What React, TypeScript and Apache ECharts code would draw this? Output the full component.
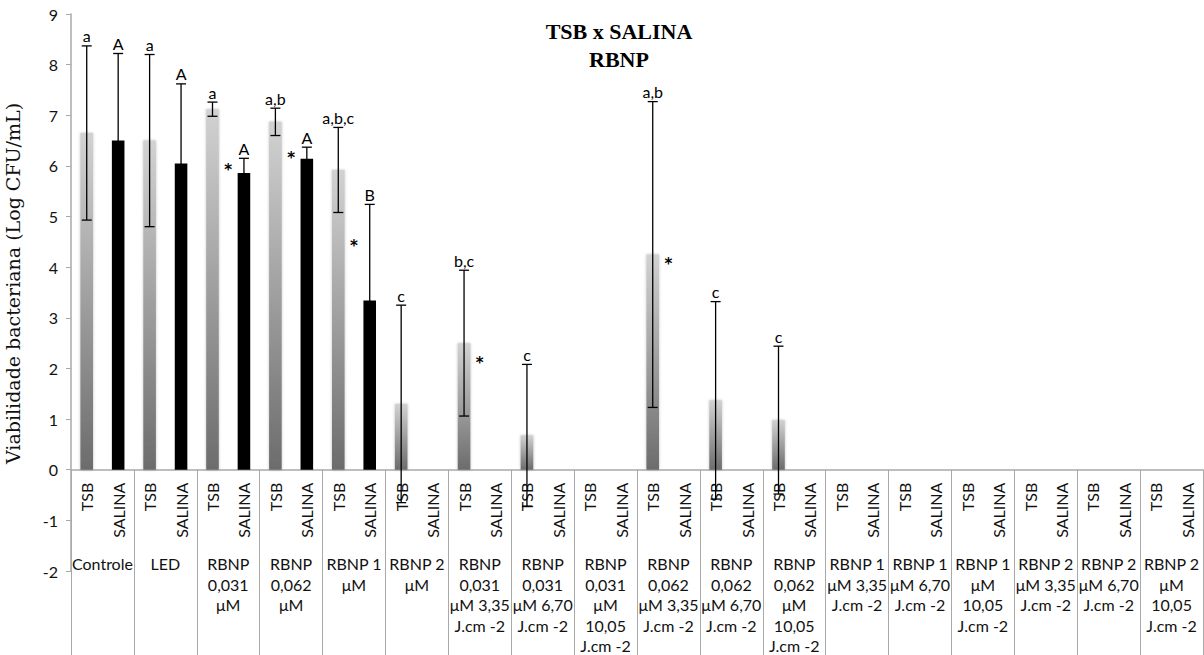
import React, { useEffect, useRef } from "react";
import * as echarts from "echarts";

const groupLabels = [
  "Controle",
  "LED",
  "RBNP\n0,031\nμM",
  "RBNP\n0,062\nμM",
  "RBNP 1\nμM",
  "RBNP 2\nμM",
  "RBNP\n0,031\nμM 3,35\nJ.cm -2",
  "RBNP\n0,031\nμM 6,70\nJ.cm -2",
  "RBNP\n0,031\nμM\n10,05\nJ.cm -2",
  "RBNP\n0,062\nμM 3,35\nJ.cm -2",
  "RBNP\n0,062\nμM 6,70\nJ.cm -2",
  "RBNP\n0,062\nμM\n10,05\nJ.cm -2",
  "RBNP 1\nμM 3,35\nJ.cm -2",
  "RBNP 1\nμM 6,70\nJ.cm -2",
  "RBNP 1\nμM\n10,05\nJ.cm -2",
  "RBNP 2\nμM 3,35\nJ.cm -2",
  "RBNP 2\nμM 6,70\nJ.cm -2",
  "RBNP 2\nμM\n10,05\nJ.cm -2",
];
const mediaLabels = ["TSB", "SALINA"];

const tsbValues = [6.65, 6.5, 7.12, 6.87, 5.92, 1.3, 2.5, 0.68, 0, 4.25, 1.37, 0.98, 0, 0, 0, 0, 0, 0];
const tsbSd = [1.72, 1.7, 0.14, 0.27, 0.84, 1.95, 1.44, 1.4, 0, 3.02, 1.95, 1.46, 0, 0, 0, 0, 0, 0];
const tsbLetters = ["a", "a", "a", "a,b", "a,b,c", "c", "b,c", "c", "", "a,b", "c", "c", "", "", "", "", "", ""];

const salinaValues = [6.5, 6.05, 5.86, 6.14, 3.34, 0, 0, 0, 0, 0, 0, 0, 0, 0, 0, 0, 0, 0];
const salinaSd = [1.72, 1.57, 0.29, 0.23, 1.9, 0, 0, 0, 0, 0, 0, 0, 0, 0, 0, 0, 0, 0];
const salinaLetters = ["A", "A", "A", "A", "B", "", "", "", "", "", "", "", "", "", "", "", "", ""];

const asteriskGroups = [2, 3, 4, 6, 9];
const asteriskValues = [6.0, 6.24, 4.5, 2.18, 4.14];

const yMin = -2;
const yMax = 9;
const yInterval = 1;

const TEXT_FONT = "Lato, 'Open Sans', sans-serif";
const AXIS_GREY = "#a9a9a9";

const W = 1204;
const H = 655;
const PLOT_LEFT = 71;
const PLOT_RIGHT = 1;
const PLOT_TOP = 14;
const PLOT_BOTTOM = 84;

export default function App() {
  const ref = useRef<HTMLDivElement>(null);

  useEffect(() => {
    if (!ref.current) return;
    const chart = echarts.init(ref.current, undefined, { renderer: "svg" });

    const barCategories: string[] = [];
    const barData: any[] = [];
    const errData: { idx: number; mean: number; sd: number; letter: string }[] = [];
    groupLabels.forEach((_, g) => {
      barCategories.push(mediaLabels[0]);
      barCategories.push(mediaLabels[1]);
      barData.push({
        value: tsbValues[g],
        itemStyle: {
          color: new echarts.graphic.LinearGradient(0, 0, 0, 1, [
            { offset: 0, color: "#d2d2d2" },
            { offset: 1, color: "#6c6c6c" },
          ]),
          shadowBlur: 3,
          shadowColor: "rgba(120,120,120,0.45)",
        },
      });
      barData.push({ value: salinaValues[g], itemStyle: { color: "#000" } });
      if (tsbSd[g] > 0) errData.push({ idx: 2 * g, mean: tsbValues[g], sd: tsbSd[g], letter: tsbLetters[g] });
      if (salinaSd[g] > 0)
        errData.push({ idx: 2 * g + 1, mean: salinaValues[g], sd: salinaSd[g], letter: salinaLetters[g] });
    });

    // grid 0 spans the full value range (-2..9); grids 1 and 2 span 0..9 with identical scale
    const unit = (H - PLOT_TOP - PLOT_BOTTOM) / (yMax - yMin);
    const zeroBottom = H - PLOT_TOP - unit * yMax;
    const fullGrid = {
      left: PLOT_LEFT,
      right: PLOT_RIGHT,
      top: PLOT_TOP,
      bottom: PLOT_BOTTOM,
      containLabel: false,
      outerBoundsMode: "none",
    };
    const posGrid = { ...fullGrid, bottom: zeroBottom };

    chart.setOption({
      animation: false,
      backgroundColor: "#fff",
      grid: [fullGrid, posGrid, { ...posGrid }],
      graphic: [
        {
          type: "text",
          x: 619,
          y: 17,
          style: {
            text: "TSB x SALINA\nRBNP",
            textAlign: "center",
            textVerticalAlign: "top",
            fontFamily: "'Liberation Serif', serif",
            fontWeight: "bold",
            fontSize: 22,
            lineHeight: 28,
            fill: "#000",
          },
        },
      ],
      xAxis: [
        {
          type: "category",
          gridIndex: 0,
          data: barCategories,
          show: false,
        },
        {
          type: "category",
          gridIndex: 1,
          position: "bottom",
          data: barCategories,
          axisLine: { onZero: false, lineStyle: { color: AXIS_GREY, width: 1.5 } },
          axisTick: { interval: 0, length: 67, lineStyle: { color: AXIS_GREY } },
          axisLabel: {
            interval: 0,
            rotate: 90,
            margin: 13,
            fontSize: 16,
            fontFamily: TEXT_FONT,
            color: "#111",
          },
        },
        {
          type: "category",
          gridIndex: 2,
          position: "bottom",
          data: groupLabels,
          axisLine: { onZero: false, show: false },
          axisTick: { show: true, interval: 0, length: 190, lineStyle: { color: AXIS_GREY } },
          axisLabel: {
            interval: 0,
            margin: 84,
            fontSize: 16,
            lineHeight: 20.5,
            fontFamily: TEXT_FONT,
            color: "#111",
            verticalAlign: "top",
          },
        },
      ],
      yAxis: [
        {
          type: "value",
          gridIndex: 0,
          min: yMin,
          max: yMax,
          interval: yInterval,
          name: "Viabilidade bacteriana (Log CFU/mL)",
          nameLocation: "middle",
          nameGap: 49,
          nameTextStyle: {
            fontFamily: "'DejaVu Serif', serif",
            fontSize: 19,
            color: "#111",
            padding: [0, 0, 0, 18],
          },
          axisLine: { show: true, lineStyle: { color: AXIS_GREY, width: 1.5 } },
          axisTick: { show: true, length: 5, lineStyle: { color: AXIS_GREY } },
          splitLine: { show: false },
          axisLabel: { fontSize: 16, fontFamily: TEXT_FONT, color: "#111", margin: 13 },
        },
        {
          type: "value",
          gridIndex: 1,
          min: 0,
          max: yMax,
          interval: yInterval,
          show: false,
          splitLine: { show: false },
        },
        {
          type: "value",
          gridIndex: 2,
          min: 0,
          max: yMax,
          interval: yInterval,
          show: false,
          splitLine: { show: false },
        },
      ],
      series: [
        {
          type: "bar",
          xAxisIndex: 1,
          yAxisIndex: 1,
          data: barData,
          barWidth: "40%",
        },
        {
          type: "custom",
          xAxisIndex: 1,
          yAxisIndex: 1,
          clip: false,
          data: errData.map((d) => [d.idx, d.mean, d.sd]),
          encode: { x: 0, y: 1 },
          z: 5,
          renderItem: (params: any, api: any) => {
            const x = api.value(0);
            const m = api.value(1);
            const s = api.value(2);
            const top = api.coord([x, m + s]);
            const bot = api.coord([x, m - s]);
            const cap = 5;
            const st = { stroke: "#000", lineWidth: 1.3 };
            const children: any[] = [
              { type: "line", shape: { x1: top[0], y1: top[1], x2: bot[0], y2: bot[1] }, style: st },
              { type: "line", shape: { x1: top[0] - cap, y1: top[1], x2: top[0] + cap, y2: top[1] }, style: st },
              { type: "line", shape: { x1: bot[0] - cap, y1: bot[1], x2: bot[0] + cap, y2: bot[1] }, style: st },
            ];
            const letter = errData[params.dataIndex].letter;
            if (letter) {
              children.push({
                type: "text",
                x: top[0],
                y: top[1] - 2,
                style: {
                  text: letter,
                  textAlign: "center",
                  textVerticalAlign: "bottom",
                  fontSize: 16,
                  fontFamily: TEXT_FONT,
                  fill: "#000",
                },
              });
            }
            return { type: "group", children };
          },
        },
        {
          type: "custom",
          xAxisIndex: 2,
          yAxisIndex: 2,
          clip: false,
          data: asteriskGroups.map((g, i) => [g, asteriskValues[i]]),
          encode: { x: 0, y: 1 },
          z: 5,
          renderItem: (params: any, api: any) => {
            const p = api.coord([api.value(0), api.value(1)]);
            return {
              type: "group",
              children: [
                {
                  type: "text",
                  x: p[0],
                  y: p[1] + 4,
                  style: {
                    text: "*",
                    textAlign: "center",
                    textVerticalAlign: "middle",
                    fontSize: 15,
                    fontWeight: "bold",
                    fontFamily: "'DejaVu Sans', sans-serif",
                    fill: "#000",
                  },
                },
              ],
            };
          },
        },
      ],
    });

    return () => {
      chart.dispose();
    };
  }, []);

  return (
    <div
      ref={ref}
      style={{ position: "fixed", left: 0, top: 0, width: W, height: H, background: "#fff" }}
    />
  );
}
